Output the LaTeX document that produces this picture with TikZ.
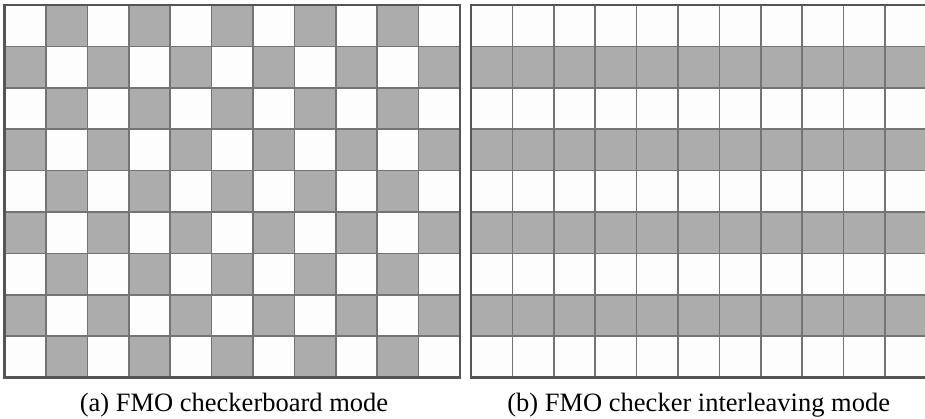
\documentclass[tikz,border=0pt]{standalone}
\usepackage{fontspec}
\setmainfont{Liberation Serif}
\definecolor{cellgray}{HTML}{ACACAC}
\definecolor{cellwhite}{HTML}{FDFDFD}
\definecolor{gridline}{HTML}{747474}
\definecolor{frameline}{HTML}{555555}
\begin{document}
\begin{tikzpicture}[x=1pt,y=-1pt,
  gridstroke/.style={draw=gridline,line width=1.6pt},
  framestroke/.style={draw=frameline,line width=2.8pt},
  captext/.style={font=\fontsize{26.5}{32}\selectfont,anchor=base,inner sep=0pt}]
\useasboundingbox (0,0) rectangle (925,418);
\fill[white] (0,0) rectangle (925,418);
\begin{scope}
\clip (0,0) rectangle (925,418);
\def\cs{41.4}
% ---- left grid: checkerboard ----
\fill[cellwhite] (4.5,5) rectangle ++(455.4,372.6);
\foreach \i in {0,...,10}{\foreach \j in {0,...,8}{
  \pgfmathtruncatemacro\p{mod(\i+\j,2)}
  \ifnum\p=1 \fill[cellgray] ({4.5+\i*\cs},{5+\j*\cs}) rectangle ++(\cs,\cs);\fi
}}
\foreach \i in {1,...,10}{\draw[gridstroke] ({4.5+\i*\cs},5) -- ++(0,372.6);}
\foreach \j in {1,...,8}{\draw[gridstroke] (4.5,{5+\j*\cs}) -- ++(455.4,0);}
\draw[framestroke] (4.5,5) rectangle ++(455.4,372.6);
% ---- right grid: interleaving ----
\fill[cellwhite] (471,5) rectangle ++(455.4,372.6);
\foreach \j in {1,3,5,7}{\fill[cellgray] (471,{5+\j*\cs}) rectangle ++(455.4,\cs);}
\foreach \i in {1,...,10}{\draw[gridstroke] ({471+\i*\cs},5) -- ++(0,372.6);}
\foreach \j in {1,...,8}{\draw[gridstroke] (471,{5+\j*\cs}) -- ++(455.4,0);}
\draw[framestroke] (471,5) rectangle ++(455.4,372.6);
\end{scope}
\node[captext] (capA) at (234,411) {(a) FMO checkerboard mode};
\node[captext] (capB) at (698.7,411) {(b) FMO checker interleaving mode};
\end{tikzpicture}
\end{document}
